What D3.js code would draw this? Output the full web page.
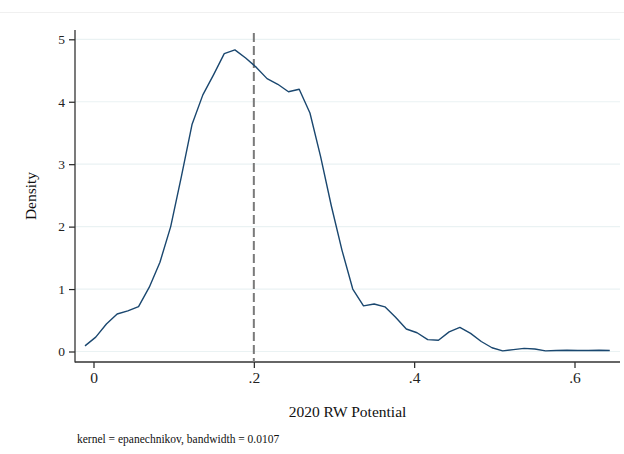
<!DOCTYPE html>
<html>
<head>
<meta charset="utf-8">
<script src="https://cdn.jsdelivr.net/npm/d3@7"></script>
<style>
  body { margin: 0; background: #fff; }
  svg { display: block; font-family: 'Liberation Serif', 'Times New Roman', serif; }
  svg text { font-family: 'Liberation Serif', 'Times New Roman', serif; }
</style>
</head>
<body>
<svg id="chart"></svg>
<script>
// kdensity grid points (x) and estimated density
const gridX = [-0.0106, 0.0028, 0.0161, 0.0295, 0.0428, 0.0562, 0.0696, 0.0829, 0.0963, 0.1096,
               0.1230, 0.1364, 0.1497, 0.1631, 0.1764, 0.1898, 0.2032, 0.2165, 0.2299, 0.2432,
               0.2566, 0.2700, 0.2833, 0.2967, 0.3100, 0.3234, 0.3368, 0.3501, 0.3635, 0.3768,
               0.3902, 0.4036, 0.4169, 0.4303, 0.4436, 0.4570, 0.4704, 0.4837, 0.4971, 0.5104,
               0.5238, 0.5372, 0.5505, 0.5639, 0.5772, 0.5906, 0.6040, 0.6173, 0.6307, 0.6440];
const density = [0.09, 0.23, 0.44, 0.60, 0.65, 0.72, 1.03, 1.43, 2.00, 2.80,
                 3.64, 4.11, 4.43, 4.77, 4.83, 4.70, 4.55, 4.37, 4.28, 4.16,
                 4.20, 3.82, 3.12, 2.33, 1.62, 1.00, 0.73, 0.76, 0.715, 0.55,
                 0.36, 0.30, 0.19, 0.18, 0.315, 0.385, 0.29, 0.16, 0.06, 0.01,
                 0.03, 0.05, 0.04, 0.01, 0.015, 0.02, 0.015, 0.015, 0.02, 0.015];
const xTicks = [0, 0.2, 0.4, 0.6];
const xTickLabels = ['0', '.2', '.4', '.6'];
const yTicks = [0, 1, 2, 3, 4, 5];
const refLine = 0.2;

const xTitle = '2020 RW Potential';
const yTitle = 'Density';
const note = 'kernel = epanechnikov, bandwidth = 0.0107';

const width = 624;
const height = 454;
const serif = "'Liberation Serif', 'Times New Roman', serif";

const svg = d3.select('#chart')
              .attr('width', width)
              .attr('height', height)

const x = d3.scaleLinear().domain([0, 0.6]).range([93.5, 574.5]);
const y = d3.scaleLinear().domain([0, 5]).range([351.5, 39.3]);

const plotLeft = 75, plotRight = 620, plotTop = 30, plotBottom = 362;

// faint outer frame line at top
svg.append('line')
   .attr('x1', 0).attr('x2', width)
   .attr('y1', 12.5).attr('y2', 12.5)
   .attr('stroke', '#f0f0f0')
   .attr('stroke-width', 1)

// gridlines
svg.append('g')
   .selectAll('line')
   .data(yTicks)
   .enter()
   .append('line')
   .attr('x1', plotLeft).attr('x2', plotRight)
   .attr('y1', d => y(d)).attr('y2', d => y(d))
   .attr('stroke', '#eaf2f3')
   .attr('stroke-width', 1.2)

// y axis
const yAxis = d3.axisLeft(y)
  .tickValues(yTicks)
  .tickFormat(d3.format('d'))
  .tickSize(6)
  .tickSizeOuter(0)
  .tickPadding(4);

const gy = svg.append('g')
   .attr('transform', `translate(${plotLeft}, 0)`)
   .call(yAxis)
   .attr('font-family', null)
   .attr('font-size', null)
gy.select('.domain').remove()
gy.selectAll('.tick line').attr('stroke', '#222').attr('stroke-width', 1.2)
gy.selectAll('.tick text')
  .style('font-family', serif)
  .style('font-size', '13.5px')
  .attr('fill', '#222')

// x axis
const xAxis = d3.axisBottom(x)
  .tickValues(xTicks)
  .tickFormat((d, i) => xTickLabels[i])
  .tickSize(6)
  .tickSizeOuter(0)
  .tickPadding(4);

const gx = svg.append('g')
   .attr('transform', `translate(0, ${plotBottom})`)
   .call(xAxis)
   .attr('font-family', null)
   .attr('font-size', null)
gx.select('.domain').remove()
gx.selectAll('.tick line').attr('stroke', '#222').attr('stroke-width', 1.2)
gx.selectAll('.tick text')
  .style('font-family', serif)
  .style('font-size', '15.5px')
  .attr('fill', '#222')

// axis lines
svg.append('line')
   .attr('x1', plotLeft).attr('x2', plotLeft)
   .attr('y1', plotTop).attr('y2', plotBottom + 0.6)
   .attr('stroke', '#333').attr('stroke-width', 1.3)
svg.append('line')
   .attr('x1', plotLeft).attr('x2', plotRight)
   .attr('y1', plotBottom).attr('y2', plotBottom)
   .attr('stroke', '#333').attr('stroke-width', 1.3)

// reference line
svg.append('line')
   .attr('x1', x(refLine)).attr('x2', x(refLine))
   .attr('y1', 33).attr('y2', plotBottom)
   .attr('stroke', '#7a7a7a')
   .attr('stroke-width', 2)
   .attr('stroke-dasharray', '9,4')

// density curve
const line = d3.line()
  .x((d, i) => x(gridX[i]))
  .y(d => y(d));

svg.append('path')
   .datum(density)
   .attr('d', line)
   .attr('fill', 'none')
   .attr('stroke', '#1a476f')
   .attr('stroke-width', 1.4)
   .attr('stroke-linejoin', 'round')

// titles
svg.append('text')
   .attr('x', (plotLeft + plotRight) / 2)
   .attr('y', 417)
   .attr('text-anchor', 'middle')
   .attr('font-size', 15.5)
   .attr('fill', '#111')
   .text(xTitle)

svg.append('text')
   .attr('transform', 'translate(36, 196) rotate(-90)')
   .attr('text-anchor', 'middle')
   .attr('font-size', 15.5)
   .attr('fill', '#111')
   .text(yTitle)

svg.append('text')
   .attr('x', 77)
   .attr('y', 443)
   .attr('font-size', 11.5)
   .attr('fill', '#111')
   .text(note)
</script>
</body>
</html>
